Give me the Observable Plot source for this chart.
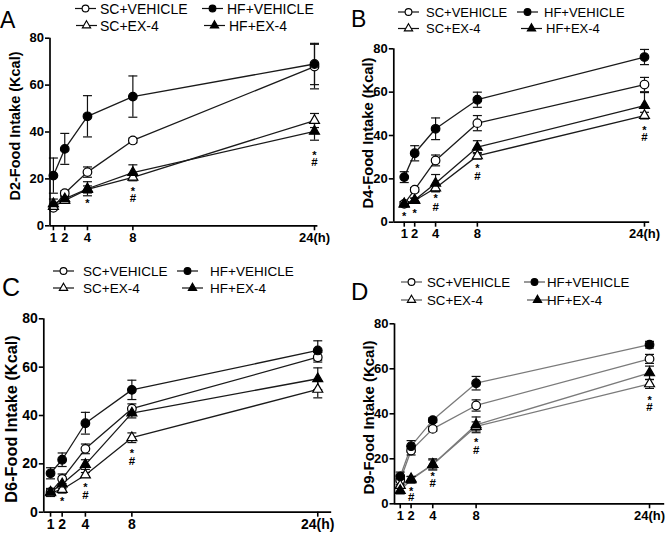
<!DOCTYPE html>
<html><head><meta charset="utf-8">
<script src="https://cdn.jsdelivr.net/npm/d3@7"></script>
<script src="https://cdn.jsdelivr.net/npm/@observablehq/plot@0.6"></script>
<style>
body{margin:0;background:#fff;font-family:"Liberation Sans",Arial,sans-serif;}
#fig{position:relative;width:667px;height:535px;overflow:hidden;background:#fff;}
.panel{position:absolute;}
.panel svg{display:block;}
#overlay{position:absolute;left:0;top:0;pointer-events:none;}
</style></head><body><div id="fig"></div>
<script>
// ---------- data ----------
const hours = [1, 2, 4, 8, 24];
const hourLabels = ["1", "2", "4", "8", "24(h)"];
const yTicks = [0, 20, 40, 60, 80];
const seriesNames = ["SC+VEHICLE", "HF+VEHICLE", "SC+EX-4", "HF+EX-4"];
const panelLetters = ["A", "B", "C", "D"];
const yLabels = ["D2-Food Intake (Kcal)", "D4-Food Intake (Kcal)", "D6-Food Intake (Kcal)", "D9-Food Intake (Kcal)"];

// Panel A (day 2)
const aScVeh = [7.7, 13.9, 22.9, 36.4, 67.9];   const aScVehErr = [0.8, 1.0, 2.2, 1.0, 9.5];
const aHfVeh = [21.4, 32.8, 46.7, 55.1, 69.0];  const aHfVehErr = [7.5, 6.6, 8.8, 8.8, 8.8];
const aScEx  = [8.2, 10.8, 15.5, 20.7, 44.9];   const aScExErr  = [1.0, 1.0, 1.5, 1.5, 3.0];
const aHfEx  = [9.4, 11.5, 15.8, 22.7, 40.3];   const aHfExErr  = [2.0, 1.0, 3.0, 3.3, 3.8];
const aMarks = [[4, "*", 10.8], [8, "*", 15.8], [8, "#", 11.9], [24, "*", 31.4], [24, "#", 27.1]];

// Panel B (day 4)
const bScVeh = [8.5, 15.0, 28.5, 45.7, 63.5];   const bScVehErr = [1.0, 1.0, 2.5, 3.5, 3.3];
const bHfVeh = [20.8, 31.8, 43.1, 56.5, 76.2];  const bHfVehErr = [2.5, 3.5, 5.0, 3.5, 3.5];
const bScEx  = [8.3, 10.0, 15.8, 30.6, 49.2];   const bScExErr  = [1.0, 1.0, 1.5, 1.5, 1.5];
const bHfEx  = [8.5, 10.2, 18.0, 34.6, 53.8];   const bHfExErr  = [1.0, 1.0, 4.0, 3.0, 6.0];
const bMarks = [[1, "*", 3.8], [2, "*", 5.4], [4, "*", 12.3], [4, "#", 6.9], [8, "*", 26.2], [8, "#", 21.0], [24, "*", 43.5], [24, "#", 39.0]];

// Panel C (day 6)
const cScVeh = [8.3, 13.8, 26.2, 42.8, 64.1];   const cScVehErr = [1.5, 2.0, 2.0, 2.0, 2.0];
const cHfVeh = [16.1, 21.7, 36.8, 50.6, 66.9];  const cHfVehErr = [2.3, 2.8, 4.5, 4.0, 4.0];
const cScEx  = [8.0, 9.4, 15.4, 30.8, 50.8];    const cScExErr  = [1.5, 1.5, 1.0, 2.0, 3.5];
const cHfEx  = [8.3, 11.7, 19.7, 41.0, 55.2];   const cHfExErr  = [1.5, 2.0, 2.0, 2.0, 4.5];
const cMarks = [[2, "*", 5.8], [4, "*", 11.3], [4, "#", 6.9], [8, "*", 25.5], [8, "#", 21.0]];

// Panel D (day 9)
const dScVeh = [10.5, 23.7, 33.3, 43.7, 64.4];  const dScVehErr = [2.0, 2.0, 1.0, 2.5, 2.0];
const dHfVeh = [12.1, 25.6, 37.2, 53.6, 70.7];  const dHfVehErr = [2.0, 2.5, 1.0, 3.0, 1.5];
const dScEx  = [8.1, 11.1, 17.5, 34.4, 53.3];   const dScExErr  = [3.0, 1.0, 2.0, 2.0, 2.0];
const dHfEx  = [5.9, 10.7, 17.5, 35.1, 58.2];   const dHfExErr  = [1.5, 1.5, 2.5, 3.5, 3.0];
const dMarks = [[2, "*", 7.0], [2, "#", 3.0], [4, "*", 13.3], [4, "#", 8.9], [8, "*", 28.6], [8, "#", 23.7], [24, "*", 47.4], [24, "#", 43.0]];

// ---------- layout / style ----------
const FONT = '"Liberation Sans", Arial, Helvetica, sans-serif';
const panels = [
  {left: 0, top: 0, width: 334, height: 265, mL: 49.5, mR: 16.6, mT: 37.7, mB: 39.7, xDom: [0.7, 24.3], tickFont: 13,
   series: [[aScVeh, aScVehErr], [aHfVeh, aHfVehErr], [aScEx, aScExErr], [aHfEx, aHfExErr]], marks: aMarks, lineColor: "#1a1a1a",
   letter: {x: 0, y: 28, size: 23}, ylab: {x: 15, y: 126, size: 14.5},
   legend: {size: 14, entries: [[75, 100, 8.5], [202, 227, 8.5], [76, 100, 25.5], [204, 229, 25.5]]}},
  {left: 334, top: 0, width: 333, height: 265, mL: 59.3, mR: 17.8, mT: 48.3, mB: 43.3, xDom: [0, 24.5], tickFont: 13,
   series: [[bScVeh, bScVehErr], [bHfVeh, bHfVehErr], [bScEx, bScExErr], [bHfEx, bHfExErr]], marks: bMarks, lineColor: "#1a1a1a",
   letter: {x: 351, y: 27, size: 23}, ylab: {x: 368, y: 133, size: 14.7},
   legend: {size: 13, entries: [[398, 426, 12], [517, 544, 12], [398, 426, 28.5], [521, 546, 28.5]]}},
  {left: 0, top: 265, width: 334, height: 270, mL: 43.3, mR: 2.8, mT: 53.3, mB: 23.3, xDom: [0.42, 25.2], tickFont: 14,
   series: [[cScVeh, cScVehErr], [cHfVeh, cHfVehErr], [cScEx, cScExErr], [cHfEx, cHfExErr]], marks: cMarks, lineColor: "#1a1a1a",
   letter: {x: 2, y: 296, size: 25}, ylab: {x: 11, y: 419, size: 16.3},
   legend: {size: 13.5, entries: [[53, 83, 271], [177, 210, 271], [53, 83, 288], [182, 210, 288]]}},
  {left: 334, top: 265, width: 333, height: 270, mL: 60, mR: 2.8, mT: 58.3, mB: 31.7, xDom: [0.47, 25.4], tickFont: 13,
   series: [[dScVeh, dScVehErr], [dHfVeh, dHfVehErr], [dScEx, dScExErr], [dHfEx, dHfExErr]], marks: dMarks, lineColor: "#7a7a7a",
   letter: {x: 351, y: 300, size: 24}, ylab: {x: 369, y: 417.5, size: 15},
   legend: {size: 13.3, entries: [[401, 427, 282], [524, 547, 282], [401, 427, 300], [527, 547, 300]]}}
];

const markerStyle = [
  {symbol: "circle", fill: "#fff", r: 4.3},
  {symbol: "circle", fill: "#000", r: 4.3},
  {symbol: "triangle", fill: "#fff", r: 3.7},
  {symbol: "triangle", fill: "#000", r: 3.7}
];

const capSymbol = {
  draw(ctx, size) {
    const r = Math.sqrt(size / Math.PI);
    ctx.moveTo(-r, 0);
    ctx.lineTo(r, 0);
  }
};

const fig = document.getElementById("fig");

panels.forEach((p, pi) => {
  const rows = [];
  p.series.forEach(([vals, errs], si) => {
    vals.forEach((v, j) => rows.push({series: seriesNames[si], si, t: hours[j], v, e: errs[j]}));
  });
  const marks = [
    Plot.line(rows, {x: "t", y: "v", z: "series", stroke: p.lineColor, strokeWidth: 1.3}),
    Plot.ruleX(rows, {x: "t", y1: d => d.v - d.e, y2: d => d.v + d.e, stroke: "#111", strokeWidth: 1.2}),
    Plot.dot(rows, {x: "t", y: d => d.v + d.e, symbol: capSymbol, r: 4.5, fill: "none", stroke: "#111", strokeWidth: 1.2}),
    Plot.dot(rows, {x: "t", y: d => d.v - d.e, symbol: capSymbol, r: 4.5, fill: "none", stroke: "#111", strokeWidth: 1.2})
  ];
  markerStyle.forEach((m, si) => {
    marks.push(Plot.dot(rows.filter(d => d.si === si), {x: "t", y: "v", symbol: m.symbol, r: m.r, fill: m.fill, stroke: "#000", strokeWidth: 1.2}));
  });
  marks.push(
    Plot.text(p.marks.filter(d => d[1] === "*"), {x: d => d[0], y: d => d[2], text: d => d[1], fontSize: 11, fontWeight: "bold", dy: 3, fill: "#000"}),
    Plot.text(p.marks.filter(d => d[1] === "#"), {x: d => d[0], y: d => d[2], text: d => d[1], fontSize: 11.5, fontWeight: "bold", fill: "#000"}),
    Plot.ruleY([0], {stroke: "#000", strokeWidth: 1.7}),
    Plot.ruleX([p.xDom[0]], {stroke: "#000", strokeWidth: 1.7}),
    Plot.axisY({ticks: yTicks, tickSize: 4.5, tickPadding: 1.5, fontSize: p.tickFont, fontWeight: "bold", label: null, strokeWidth: 1.6, fill: "#000", stroke: "#000"}),
    Plot.axisX({ticks: hours, tickFormat: (d) => hourLabels[hours.indexOf(d)], tickSize: 5, tickPadding: 2, fontSize: p.tickFont, fontWeight: "bold", label: null, strokeWidth: 1.6, fill: "#000", stroke: "#000"})
  );
  const svg = Plot.plot({
    width: p.width, height: p.height,
    marginLeft: p.mL, marginRight: p.mR, marginTop: p.mT, marginBottom: p.mB,
    x: {type: "linear", domain: p.xDom},
    y: {type: "linear", domain: [0, 80]},
    style: {fontFamily: FONT, color: "#000", background: "transparent", overflow: "visible"},
    marks
  });
  const div = document.createElement("div");
  div.className = "panel";
  div.style.left = p.left + "px";
  div.style.top = p.top + "px";
  div.appendChild(svg);
  fig.appendChild(div);
});

// ---------- overlay: panel letters, y labels, legends ----------
const ov = d3.select(fig).append("svg").attr("id", "overlay").attr("width", 667).attr("height", 535)
  .style("font-family", FONT);

panels.forEach((p, pi) => {
  ov.append("text").attr("x", p.letter.x).attr("y", p.letter.y).attr("font-size", p.letter.size)
    .attr("fill", "#000").text(panelLetters[pi]);
  const yl = p.ylab;
  ov.append("text")
    .attr("transform", `translate(${yl.x + 0.36 * yl.size},${yl.y}) rotate(-90)`)
    .attr("text-anchor", "middle").attr("font-size", yl.size).attr("font-weight", "bold")
    .attr("fill", "#000").text(yLabels[pi]);
  p.legend.entries.forEach(([mx, tx, cy], si) => {
    const g = ov.append("g");
    g.append("line").attr("x1", mx).attr("x2", mx + 21).attr("y1", cy).attr("y2", cy)
      .attr("stroke", p.lineColor === "#7a7a7a" ? "#555" : "#111").attr("stroke-width", 1.2);
    const m = markerStyle[si];
    const sym = m.symbol === "circle" ? d3.symbolCircle : d3.symbolTriangle;
    g.append("path").attr("d", d3.symbol(sym, m.symbol === "circle" ? 36 : 30)())
      .attr("transform", `translate(${mx + 10.5},${cy})`)
      .attr("fill", m.fill).attr("stroke", "#000").attr("stroke-width", 1.1);
    g.append("text").attr("x", tx).attr("y", cy + 0.36 * p.legend.size)
      .attr("font-size", p.legend.size).attr("fill", "#000").text(seriesNames[si]);
  });
});
</script>
</body></html>
